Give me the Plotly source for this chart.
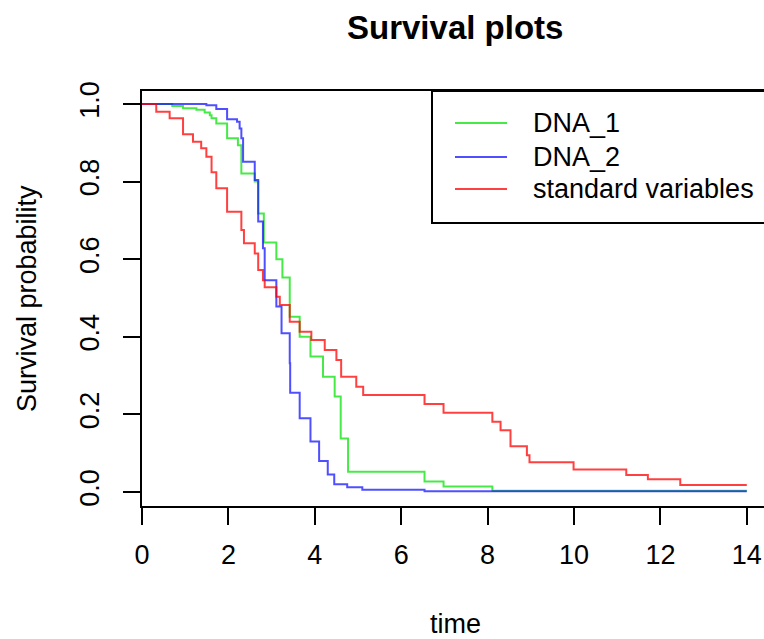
import plotly.graph_objects as go

# ---- data (Kaplan-Meier step curves) ----
dna1_time = [0, 0.70, 0.95, 1.26, 1.45, 1.57, 1.61, 1.72, 1.97, 2.22, 2.30, 2.61, 2.69, 2.82,
             3.11, 3.25, 3.42, 3.65, 3.90, 4.19, 4.46, 4.60, 4.77, 6.54, 6.98, 8.11, 14.0]
dna1_surv = [1.0, 0.995, 0.989, 0.985, 0.978, 0.971, 0.963, 0.950, 0.912, 0.894, 0.821, 0.800, 0.718, 0.643,
             0.600, 0.553, 0.452, 0.400, 0.349, 0.297, 0.246, 0.138, 0.052, 0.027, 0.014, 0.003, 0.003]

dna2_time = [0, 1.49, 1.72, 1.97, 2.20, 2.26, 2.30, 2.34, 2.61, 2.69, 2.80, 2.84, 3.11, 3.23,
             3.42, 3.43, 3.65, 3.90, 4.10, 4.30, 4.45, 4.75, 5.10, 6.54, 14.0]
dna2_surv = [1.0, 0.997, 0.987, 0.961, 0.954, 0.937, 0.912, 0.851, 0.804, 0.697, 0.628, 0.546, 0.478, 0.409,
             0.332, 0.256, 0.190, 0.130, 0.080, 0.045, 0.020, 0.012, 0.006, 0.002, 0.002]

std_time = [0, 0.33, 0.64, 0.95, 1.18, 1.37, 1.49, 1.61, 1.72, 1.97, 2.30, 2.36, 2.61, 2.69, 2.80, 2.84,
            3.11, 3.19, 3.42, 3.65, 3.92, 4.23, 4.50, 4.61, 4.96, 5.12, 6.54, 6.98, 8.11, 8.30, 8.53,
            8.91, 8.97, 9.99, 11.21, 11.71, 12.46, 14.0]
std_surv = [1.0, 0.980, 0.963, 0.922, 0.903, 0.886, 0.864, 0.824, 0.783, 0.722, 0.675, 0.641, 0.615, 0.572,
            0.546, 0.528, 0.503, 0.482, 0.439, 0.413, 0.392, 0.366, 0.340, 0.297, 0.271, 0.250, 0.227,
            0.204, 0.181, 0.159, 0.118, 0.095, 0.077, 0.058, 0.044, 0.033, 0.018, 0.018]

series_names = ["DNA_1", "DNA_2", "standard variables"]
series_colors = ["rgba(0,225,0,0.72)", "rgba(20,20,255,0.75)", "rgba(255,0,0,0.75)"]

x_ticks = [0, 2, 4, 6, 8, 10, 12, 14]
y_ticks = [0.0, 0.2, 0.4, 0.6, 0.8, 1.0]
y_ticktext = ["0.0", "0.2", "0.4", "0.6", "0.8", "1.0"]

# ---- layout geometry (pixels) ----
W, H = 764, 639
L, T, B = 142, 91, 133
PW, PH = W - L, H - T - B
FONT = "Liberation Sans, Arial, Helvetica, sans-serif"
FS = 27


def px_x(p):
    return (p - L) / PW


def px_y(p):
    return (H - B - p) / PH


fig = go.Figure()
for t, s, name, col in zip([dna1_time, dna2_time, std_time],
                           [dna1_surv, dna2_surv, std_surv],
                           series_names, series_colors):
    fig.add_trace(go.Scatter(x=t, y=s, mode="lines", name=name,
                             line=dict(color=col, width=2, shape="hv"),
                             showlegend=False, hoverinfo="skip"))

shapes = []
annotations = []
# legend box (top-right, clipped by figure edge like the reference)
shapes.append(dict(type="rect", xref="paper", yref="paper",
                   x0=px_x(432), x1=px_x(790), y0=px_y(223), y1=1.0,
                   line=dict(color="black", width=2), fillcolor="white", layer="above"))
leg_y = [123, 157, 189]
for name, col, yy in zip(series_names, series_colors, leg_y):
    shapes.append(dict(type="line", xref="paper", yref="paper",
                       x0=px_x(455), x1=px_x(507), y0=px_y(yy), y1=px_y(yy),
                       line=dict(color=col, width=2), layer="above"))
    annotations.append(dict(text=name, xref="paper", yref="paper", x=px_x(531), y=px_y(yy),
                            xanchor="left", yanchor="middle", showarrow=False,
                            font=dict(family=FONT, size=FS, color="black")))

# title and axis titles
annotations.append(dict(text="<b>Survival plots</b>", xref="paper", yref="paper",
                        x=px_x(455), y=px_y(28), xanchor="center", yanchor="middle",
                        showarrow=False, font=dict(family=FONT, size=33, color="black")))
annotations.append(dict(text="time", xref="paper", yref="paper",
                        x=px_x(455), y=px_y(624), xanchor="center", yanchor="middle",
                        showarrow=False, font=dict(family=FONT, size=FS, color="black")))
annotations.append(dict(text="Survival probability", xref="paper", yref="paper",
                        x=px_x(27), y=px_y(298), xanchor="center", yanchor="middle",
                        textangle=-90, showarrow=False,
                        font=dict(family=FONT, size=FS, color="black")))

fig.update_layout(
    width=W, height=H,
    margin=dict(l=L, r=0, t=T, b=B, pad=0),
    plot_bgcolor="white", paper_bgcolor="white",
    font=dict(family=FONT, size=FS, color="black"),
    shapes=shapes, annotations=annotations,
    xaxis=dict(range=[0, PW / 43.2], tickvals=x_ticks, ticks="outside", ticklen=17, tickwidth=2,
               tickcolor="black", showline=True, linecolor="black", linewidth=2, mirror=True,
               showgrid=False, zeroline=False, tickfont=dict(family=FONT, size=FS),
               ticklabelstandoff=7),
    yaxis=dict(range=[-0.036, 1.0335], tickvals=y_ticks, ticktext=y_ticktext, tickangle=-90,
               ticks="outside", ticklen=17, tickwidth=2, tickcolor="black",
               showline=True, linecolor="black", linewidth=2, mirror=False,
               showgrid=False, zeroline=False, tickfont=dict(family=FONT, size=FS),
               ticklabelstandoff=13),
)

fig.write_html("out.html",
               config={"displayModeBar": False},
               post_script="document.body.style.margin='0';document.body.style.overflow='hidden';")
